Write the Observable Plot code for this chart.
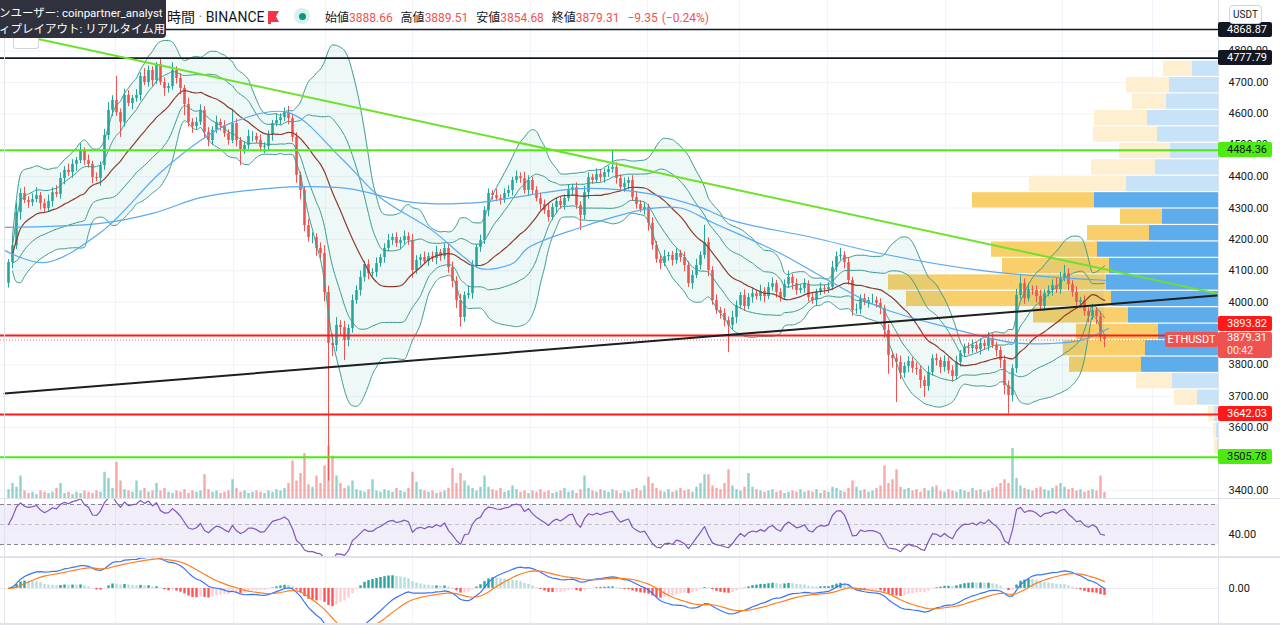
<!DOCTYPE html>
<html><head><meta charset="utf-8">
<script src="https://cdn.jsdelivr.net/npm/d3@7"></script>
<script src="https://cdn.jsdelivr.net/npm/@observablehq/plot@0.6"></script>
<style>
html,body{margin:0;padding:0;background:#fff;}
#root{position:relative;width:1280px;height:625px;overflow:hidden;background:#fff;font-family:Roboto,"Noto Sans CJK JP",sans-serif;}
.layer{position:absolute;left:0;}
</style></head><body><div id="root"></div><script>
// ---------- data ----------
const firstOpen = 4060;
const closes = [
4126,4180,4286,4346,4324,4317,4327,4340,4314,4298,4321,4349,4343,4394,4420,4413,4439,4451,4480,4451,4439,4397,4394,4435,4531,
4611,4643,4604,4573,4659,4633,4649,4659,4719,4700,4738,4706,4757,4700,4681,4687,4738,4713,4681,4630,4573,4560,4573,4611,4541,
4515,4547,4573,4563,4537,4515,4569,4515,4486,4499,4528,4528,4515,4493,4496,4531,4569,4579,4588,4604,4585,4525,4404,4356,4244,
4206,4206,4171,4155,4031,3868,3862,3926,3919,3878,3916,4005,4037,4079,4120,4091,4094,4123,4142,4171,4196,4206,4187,4196,4209,
4196,4101,4133,4142,4129,4145,4139,4158,4145,4171,4110,4066,4005,3951,4021,4027,4117,4174,4196,4292,4346,4340,4330,4327,4346,
4356,4388,4400,4394,4356,4388,4356,4330,4311,4292,4270,4302,4321,4308,4330,4356,4365,4308,4276,4349,4397,4388,4407,4397,4413,
4423,4429,4394,4365,4378,4388,4333,4311,4295,4302,4251,4181,4136,4123,4145,4149,4133,4155,4142,4117,4059,4085,4117,4149,4190,
4101,4005,3973,3964,3941,3925,3951,3989,4021,3986,4015,4027,4018,4034,4018,4047,4059,4031,4015,4056,4079,4059,4037,4043,4056,
4015,4005,4031,4043,4040,4047,4110,4145,4149,4126,4069,3973,3976,4011,3999,4005,4005,3996,3980,3910,3830,3820,3808,3773,3795,
3811,3789,3785,3750,3731,3776,3820,3814,3792,3811,3782,3763,3808,3836,3855,3852,3862,3849,3868,3859,3884,3862,3846,3814,3734,
3702,3788,4021,4059,4011,4040,4037,4018,3986,4027,4037,4053,4040,4075,4091,4056,4031,3999,4005,3970,3954,3973,3954,3888.66,3879.31];
const upWick = [
10,25,30,15,20,12,18,25,10,14,20,15,22,18,12,20,15,10,25,12,18,10,15,12,20,
25,15,77,12,20,15,10,18,12,25,15,12,7,20,15,10,25,12,15,10,20,12,15,18,12,
15,12,20,10,15,12,42,15,10,12,20,15,10,18,12,15,10,20,12,15,20,12,15,10,12,
20,15,12,18,25,20,30,25,15,20,12,18,15,20,10,15,12,18,10,15,20,12,15,10,18,
12,20,15,10,18,12,15,20,10,15,12,18,15,20,12,25,15,10,18,12,15,10,20,12,15,
15,10,18,12,20,15,10,12,18,15,20,12,10,15,12,18,10,15,12,20,15,10,18,15,12,
10,54,15,12,18,10,15,20,12,15,10,18,12,15,20,10,12,15,10,18,12,15,20,12,55,
15,12,18,10,15,12,20,15,10,18,12,15,10,20,12,15,18,10,12,15,20,10,15,12,18,
12,15,10,18,12,15,20,15,22,12,15,10,18,12,15,10,20,12,15,10,18,12,15,20,12,
15,12,18,10,15,20,12,15,10,18,12,15,20,10,12,15,18,10,15,12,20,15,10,12,15,
15,12,20,25,15,18,12,15,20,12,15,18,25,20,26,15,12,18,10,15,12,20,10,15,0.85];
const dnWick = [
15,20,12,25,10,18,12,10,20,15,12,18,10,15,20,12,18,22,10,15,12,20,10,25,15,
15,20,12,48,15,10,20,12,18,10,15,20,12,10,25,15,12,18,20,36,15,22,12,10,18,
20,15,10,18,12,15,10,20,51,15,12,18,10,15,20,12,18,10,15,12,20,15,25,30,20,
15,20,25,18,30,438,35,20,25,64,20,15,12,18,15,20,10,15,12,18,10,15,12,20,15,
15,25,12,18,10,15,12,20,15,10,18,20,25,31,15,12,18,10,15,12,20,15,10,18,12,
12,18,10,15,12,20,15,10,18,12,15,10,20,12,15,10,18,12,48,15,20,12,10,15,18,
15,12,18,10,15,20,12,15,10,18,25,15,12,20,10,15,18,12,15,20,12,18,10,15,12,
20,15,12,18,20,86,15,20,12,15,10,18,12,15,20,10,12,18,15,10,12,20,15,10,15,
15,12,18,10,15,12,10,15,12,20,15,18,12,15,10,18,12,15,20,25,60,30,128,20,15,
20,15,18,25,35,15,12,18,20,15,12,18,10,15,12,20,15,10,18,12,15,10,20,25,30,
58,20,15,12,18,10,15,20,12,15,10,18,12,15,10,20,15,12,18,15,20,12,25,15,24.6];
const volumes = [
7,12,9,18,6,4,5,3,6,5,4,5,8,12,4,5,3,5,4,6,5,4,6,5,21,
16,8,29,14,7,6,5,14,6,8,5,6,12,6,8,5,4,6,5,7,4,6,5,6,19,
7,5,6,4,5,6,15,8,5,6,4,5,6,5,4,6,5,7,6,8,12,30,14,20,36,
11,9,18,12,26,42,34,18,12,8,10,14,7,6,5,7,15,6,5,7,6,5,8,6,5,
8,21,13,7,6,5,6,4,5,6,8,24,12,20,14,10,8,6,9,18,9,7,6,8,5,
6,10,7,5,6,4,6,5,7,5,6,4,5,6,8,5,6,4,7,18,8,6,5,7,6,
5,7,6,4,6,5,7,8,6,10,17,12,8,6,5,7,5,6,8,6,7,5,9,12,19,
19,10,8,7,12,23,10,7,6,9,20,9,7,6,5,6,7,5,6,4,5,6,5,7,5,
6,5,7,4,6,5,9,8,6,5,8,14,9,6,7,5,6,8,10,26,12,15,23,9,7,
8,6,7,5,8,6,9,10,6,5,7,6,5,7,6,5,8,6,7,5,6,8,9,12,15,
12,40,16,10,8,7,6,8,9,7,6,8,10,12,9,7,8,6,7,5,6,7,6,18,5];
// long moving averages [candle index, price]
const maFast = [[-1,4165],[9,4126],[23,4222],[38,4413],[48,4515],[56,4573],[70,4604],[83,4461],[93,4333],[106,4228],[114,4142],[118,4107],[126,4123],[130,4174],[143,4238],[151,4270],[160,4298],[168,4300],[176,4254],[193,4155],[205,4069],[218,3983],[235,3919],[251,3871],[260,3868],[268,3878],[275,3916]];
const maSlow = [[-1,4238],[23,4251],[36,4283],[48,4333],[60,4356],[73,4368],[85,4362],[101,4318],[118,4318],[126,4333],[143,4362],[160,4346],[173,4302],[181,4260],[201,4206],[218,4155],[243,4101],[262,4079],[275,4069]];
// drawings
const greenTrend = [[-1,4862],[302,4028]];
const blackTrend = [[-1,3709],[302,4021]];
const blackLevels = [4868.87, 4777.79];
const greenLevels = [4484.36, 3505.78];
const redLevels = [3893.82, 3642.03];
const lastPrice = 3879.31;
// volume profile rows (top row first), up = blue, down = yellow
const vpTop = 4770, vpStep = 52.4;
const vpUp   = [26,49,52,71,61,48,63,92,124,56,69,121,109,112,107,90,60,73,77,46,21,4,2,1];
const vpDown = [29,43,34,53,64,51,64,97,122,42,62,106,107,218,205,95,82,82,72,36,23,6,3,3];
const vpValueArea = [8,18];
// axes
const priceTicks = [3400,3600,3700,3800,4000,4100,4200,4300,4400,4600,4700];
const partlyHiddenTicks = [[4800,4777.79],[4500,4484.36]];   // label peeks out above a level box
const gridTicks = [3400,3500,3600,3700,3800,3900,4000,4100,4200,4300,4400,4500,4600,4700,4800];
const dayLines = [26.75,56.25,79.25,101,130.5,159.75,182.75,204.75,234.25,263.5,286];
const xDomain = [-2, 302.5];
const priceDomain = [3374.3, 4961.3];
const rsiSeed = 12;

// ---------- derived series ----------
const n = closes.length;
const UP = "#26A69A", DN = "#EF5350";
const candles = closes.map((c,i)=>{const o = i===0?firstOpen:closes[i-1];
  return {i,o,c,h:Math.max(o,c)+upWick[i],l:Math.min(o,c)-dnWick[i],up:c>=o};});
const vols = volumes.map((v,i)=>({i,v,col:candles[i].up?"rgba(38,166,154,0.5)":"rgba(239,83,80,0.5)"}));
const bb = closes.map((c,i)=>{const w=closes.slice(Math.max(0,i-19),i+1);const m=d3.mean(w);
  const sd=Math.sqrt(d3.mean(w,v=>(v-m)*(v-m)));return {i,m,u1:m+sd,l1:m-sd,u2:m+2*sd,l2:m-2*sd};}).slice(1);
const rsi=[];{let ag=rsiSeed,al=rsiSeed;rsi.push({i:0,v:50});for(let i=1;i<n;i++){const ch=closes[i]-closes[i-1];const g=Math.max(ch,0),l=Math.max(-ch,0);
  ag=(ag*13+g)/14;al=(al*13+l)/14;
  rsi.push({i,v:al===0?100:100-100/(1+ag/al)});}}
const ema=(arr,p)=>{const k=2/(p+1);let e=arr[0];return arr.map((v,j)=>j===0?e:(e=v*k+e*(1-k)));};
const e12=ema(closes,12),e26=ema(closes,26);
const macd=closes.map((_,i)=>e12[i]-e26[i]);const sig=ema(macd,9);
const hist=macd.map((m,i)=>{const h=m-sig[i];const ph=i?macd[i-1]-sig[i-1]:0;
  return {i,h,col:h>=0?(h>=ph?"#26A69A":"#B2DFDB"):(h<ph?"#FF5252":"#FFCDD2")};});
const macdLine=macd.map((v,i)=>({i,v})), sigLine=sig.map((v,i)=>({i,v}));
const vpRows=vpUp.map((u,r)=>{const va=r>=vpValueArea[0]&&r<=vpValueArea[1];
  return {top:vpTop-vpStep*r,bot:vpTop-vpStep*(r+1),u,d:vpDown[r],va};});
const pairs=a=>a.map(([i,p])=>({i,p}));

// ---------- layout ----------
const root=document.getElementById("root");
const baseStyle={background:"transparent",fontFamily:"Roboto, sans-serif",fontSize:"11px",color:"#131722",overflow:"visible"};
function layer(top,height,y,marks,x){
  const svg=Plot.plot({width:1280,height,marginLeft:0,marginRight:62,marginTop:0,marginBottom:0,
    x:x||{domain:xDomain,axis:null},y:{...y,axis:null},color:{type:"identity"},style:baseStyle,marks});
  const d=document.createElement("div");d.className="layer";d.style.top=top+"px";d.appendChild(svg);root.appendChild(d);return svg;}
const fmt=d=>d.toFixed(2);
const grid="#F0F3FA";

// grid + price axis
layer(0,498,{domain:priceDomain},[
  Plot.ruleY(gridTicks,{stroke:grid}),
  Plot.ruleX(dayLines,{stroke:grid}),
  Plot.axisY(priceTicks,{anchor:"right",tickSize:0,tickPadding:10,tickFormat:fmt,fill:"#131722",fontSize:11})
]);
// volume profile
layer(0,498,{domain:priceDomain},[
  Plot.rect(vpRows,{x1:0,x2:"u",y1:"bot",y2:"top",insetTop:0.6,insetBottom:0.6,fill:d=>d.va?"#5DADEC":"#C8E3F8"}),
  Plot.rect(vpRows,{x1:"u",x2:d=>d.u+d.d,y1:"bot",y2:"top",insetTop:0.6,insetBottom:0.6,fill:d=>d.va?"#F9CF6B":"#FDEFD0"})
],{domain:[0,1218],reverse:true,axis:null});
// volume
layer(420,78,{domain:[0,62.4]},[
  Plot.ruleX(vols,{x:"i",y1:0,y2:"v",stroke:"col",strokeWidth:2.4})
]);
// price marks
const pricePlot=layer(0,498,{domain:priceDomain},[
  Plot.areaY(bb,{x:"i",y1:"l2",y2:"u2",fill:"#26A69A",fillOpacity:0.08,curve:"monotone-x"}),
  Plot.ruleX(candles,{x:"i",y1:"l",y2:"h",stroke:d=>d.up?UP:DN,strokeWidth:1}),
  Plot.ruleX(candles,{x:"i",y1:"o",y2:"c",stroke:d=>d.up?UP:DN,strokeWidth:2.6}),
  Plot.line(bb,{x:"i",y:"u2",stroke:"#3A9C8F",strokeWidth:1,curve:"monotone-x"}),
  Plot.line(bb,{x:"i",y:"l2",stroke:"#3A9C8F",strokeWidth:1,curve:"monotone-x"}),
  Plot.line(bb,{x:"i",y:"u1",stroke:"#3A9C8F",strokeWidth:1,curve:"monotone-x"}),
  Plot.line(bb,{x:"i",y:"l1",stroke:"#3A9C8F",strokeWidth:1,curve:"monotone-x"}),
  Plot.line(bb,{x:"i",y:"m",stroke:"#8E3B2E",strokeWidth:1.2,curve:"monotone-x"}),
  Plot.line(pairs(maFast),{x:"i",y:"p",stroke:"#5AAAF0",strokeWidth:1.2,curve:"catmull-rom"}),
  Plot.line(pairs(maSlow),{x:"i",y:"p",stroke:"#5AAAF0",strokeWidth:1.2,curve:"catmull-rom"}),
  Plot.ruleY([lastPrice],{stroke:"#EF5350",strokeDasharray:"1,2",strokeOpacity:0.8}),
  Plot.ruleY(blackLevels,{stroke:"#131722",strokeWidth:1.6}),
  Plot.ruleY(greenLevels,{stroke:"#4DEB12",strokeWidth:2}),
  Plot.ruleY(redLevels,{stroke:"#FF1A1A",strokeWidth:2}),
  Plot.line(pairs(greenTrend),{x:"i",y:"p",stroke:"#6BE32A",strokeWidth:2}),
  Plot.line(pairs(blackTrend),{x:"i",y:"p",stroke:"#1E1E1E",strokeWidth:2})
]);
// RSI
layer(499,58,{domain:[17,75]},[
  Plot.ruleX(dayLines,{stroke:grid}),
  Plot.rect([{x1:xDomain[0],x2:xDomain[1],y1:30,y2:70}],{x1:"x1",x2:"x2",y1:"y1",y2:"y2",fill:"#7E57C2",fillOpacity:0.1}),
  Plot.ruleY([40],{stroke:grid}),
  Plot.ruleY([70,30],{stroke:"#787B86",strokeDasharray:"4,3",strokeOpacity:0.9}),
  Plot.ruleY([50],{stroke:"#787B86",strokeDasharray:"4,3",strokeOpacity:0.4}),
  Plot.line(rsi,{x:"i",y:"v",stroke:"#7E57C2",strokeWidth:1.2,clip:true}),
  Plot.axisY([40],{anchor:"right",tickSize:0,tickPadding:10,tickFormat:fmt,fill:"#131722",fontSize:11})
]);
// MACD
layer(557,68,{domain:[-120,100]},[
  Plot.ruleX(dayLines,{stroke:grid}),
  Plot.ruleY([0],{stroke:"#E6E8EE"}),
  Plot.ruleX(hist,{x:"i",y1:0,y2:"h",stroke:"col",strokeWidth:2.4,clip:true}),
  Plot.line(macdLine,{x:"i",y:"v",stroke:"#3D74F5",strokeWidth:1.2,clip:true}),
  Plot.line(sigLine,{x:"i",y:"v",stroke:"#FF7F1E",strokeWidth:1.2,clip:true}),
  Plot.axisY([0],{anchor:"right",tickSize:0,tickPadding:10,tickFormat:fmt,fill:"#131722",fontSize:11})
]);

// separators
function div(css,html){const d=document.createElement("div");d.style.cssText=css;if(html)d.innerHTML=html;root.appendChild(d);return d;}
div("position:absolute;left:1218px;top:0;width:1px;height:625px;background:#E0E3EB");
div("position:absolute;left:4px;top:0;width:1px;height:625px;background:#E0E3EB");
div("position:absolute;left:0;top:498px;width:1280px;height:1px;background:#E0E3EB");
div("position:absolute;left:0;top:556px;width:1280px;height:2px;background:#E0E3EB");
div("position:absolute;left:0;top:623px;width:1280px;height:2px;background:#E0E3EB");

// price labels
const ys=pricePlot.scale("y");
// axis labels partly covered by a level box: only the uncovered top part is drawn
for (const [t,lvl] of partlyHiddenTicks){const yt=ys.apply(t), yb=ys.apply(lvl)-7.5;
  div(`position:absolute;left:1228px;top:${yt-7}px;height:${Math.max(0,yb-(yt-7))}px;overflow:hidden;font:11px Roboto,sans-serif;line-height:14px;color:#131722`,fmt(t));}
function box(v,bg,fg,shift,text,h,lh){const y=ys.apply(v);
  div(`position:absolute;left:1218px;top:${y-7.5+(shift||0)}px;width:54px;height:${h||15}px;background:${bg};color:${fg};font:11px Roboto,sans-serif;line-height:${lh||15}px;padding-left:9px;box-sizing:border-box;border-radius:2px;white-space:nowrap;overflow:hidden`,text||fmt(v));}
box(4868.87,"#131722","#fff");
box(4777.79,"#131722","#fff");
box(4484.36,"#4DEB12","#131722");
box(3893.82,"#FF1A1A","#fff",-11);
box(lastPrice,"#EF5350","#fff",0,"<div style='font-size:11px'>3879.31</div><div style='font-size:10.5px;opacity:0.9'>00:42</div>",26,12.5);
box(3642.03,"#FF1A1A","#fff");
box(3505.78,"#4DEB12","#131722");
{const y=ys.apply(lastPrice);
 div(`position:absolute;left:1165px;top:${y-7.5}px;width:53px;height:15px;background:#EF5350;color:#fff;font:11px Roboto,sans-serif;line-height:15px;text-align:center;border-radius:2px`,"ETHUSDT");}
div("position:absolute;left:1229px;top:5px;width:33px;height:19px;border:1px solid #D1D4DC;border-radius:4px;background:#fff;font:10px Roboto,sans-serif;line-height:17px;text-align:center;color:#131722;box-sizing:border-box","USDT");

// header
div("position:absolute;left:167px;top:6px;font:14px Roboto,'Noto Sans CJK JP',sans-serif;color:#131722;white-space:nowrap",
 "時間 <span style='color:#787B86'>·</span> BINANCE");
div("position:absolute;left:268px;top:9px;width:12px;height:13px",
 "<svg width='12' height='13'><path d='M0 0H11L8 5.5L11 11H3V13H0Z' fill='#F23645'/></svg>");
div("position:absolute;left:294px;top:8px;width:16px;height:16px;border-radius:8px;background:rgba(8,153,129,0.15)");
div("position:absolute;left:298.5px;top:12.5px;width:7px;height:7px;border-radius:4px;background:#089981");
const lab=(k,v)=>`<span style="color:#131722">${k}</span><span style="color:#EF5350">${v}</span>`;
div("position:absolute;left:325px;top:8px;font:12px Roboto,'Noto Sans CJK JP',sans-serif;white-space:nowrap;word-spacing:1px",
 lab("始値","3888.66")+"&nbsp; "+lab("高値","3889.51")+"&nbsp; "+lab("安値","3854.68")+"&nbsp; "+lab("終値","3879.31")+
 "&nbsp; <span style='color:#EF5350'>−9.35 (−0.24%)</span>");
div("position:absolute;left:13px;top:36px;width:24px;height:12px;border:1px solid #D1D4DC;border-top:none;background:#fff;border-radius:0 0 3px 3px");
div("position:absolute;left:0;top:0;width:166px;height:38px;background:#2F323C;border-radius:0 0 4px 0;color:#fff;font:11.5px Roboto,'Noto Sans CJK JP',sans-serif;white-space:nowrap;overflow:hidden",
 "<div style='position:absolute;left:-1px;top:4px'>ンユーザー: coinpartner_analyst</div><div style='position:absolute;left:-1px;top:20px'>ィプレイアウト: リアルタイム用</div>");
</script></body></html>
